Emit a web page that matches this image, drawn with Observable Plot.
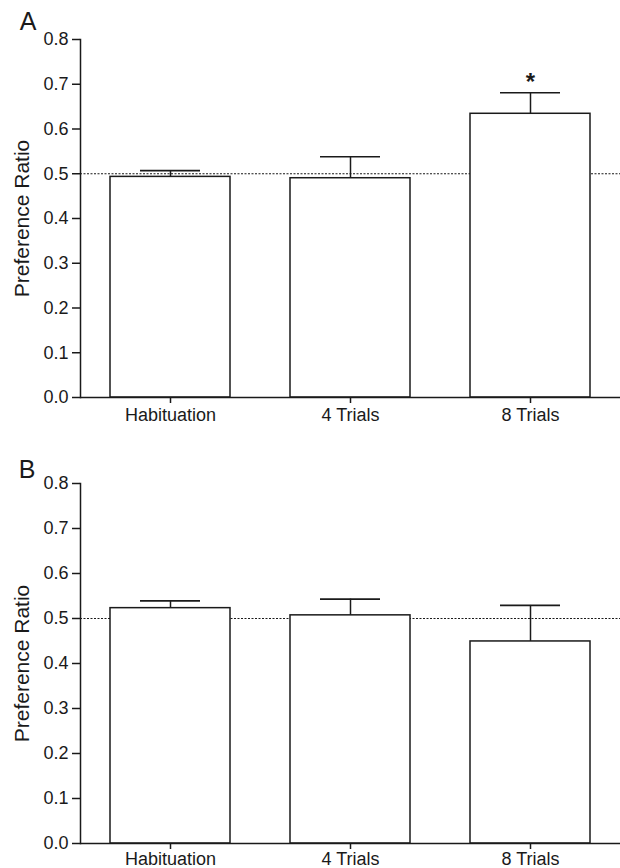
<!DOCTYPE html>
<html>
<head>
<meta charset="utf-8">
<script src="https://cdn.jsdelivr.net/npm/d3@7"></script>
<script src="https://cdn.jsdelivr.net/npm/@observablehq/plot@0.6"></script>
<style>
  html, body { margin: 0; padding: 0; background: #fff; }
  #chart { width: 620px; }
  #chart svg { display: block; }
</style>
</head>
<body>
<div id="chart"></div>
<script>
const categories = ["Habituation", "4 Trials", "8 Trials"];
const meanA = [0.493, 0.490, 0.634];
const upperA = [0.507, 0.538, 0.681];
const sigA = ["", "", "*"];
const meanB = [0.523, 0.507, 0.449];
const upperB = [0.539, 0.543, 0.529];
const sigB = ["", "", ""];
const yTicks = [0, 0.1, 0.2, 0.3, 0.4, 0.5, 0.6, 0.7, 0.8];
const chanceLevel = [0.5];
const panelLabels = ["A", "B"];

const FONT = "'Liberation Sans', Arial, Helvetica, sans-serif";
const INK = "#1a1a1a";

function panel(letter, means, uppers, sig, opts) {
  const data = categories.map((c, i) => ({cat: c, mean: means[i], upper: uppers[i], sig: sig[i]}));
  return Plot.plot({
    width: 620,
    height: opts.height,
    marginLeft: 80,
    marginRight: 0,
    marginTop: opts.marginTop,
    marginBottom: opts.marginBottom,
    style: {fontFamily: FONT, fontSize: "18px", color: INK, background: "#fff"},
    x: {domain: categories, paddingInner: 1/3, paddingOuter: 1/6, label: null},
    y: {domain: [0, 0.8], label: null},
    marks: [
      Plot.ruleY(chanceLevel, {stroke: INK, strokeWidth: 1.2, strokeDasharray: "2,1.5"}),
      Plot.ruleX(data, {x: "cat", y1: "mean", y2: "upper", stroke: INK, strokeWidth: 1.5}),
      Plot.tickY(data, {x: "cat", y: "upper", stroke: INK, strokeWidth: 1.7, insetLeft: 30, insetRight: 30}),
      Plot.barY(data, {x: "cat", y: "mean", fill: "#fff", stroke: INK, strokeWidth: 1.5}),
      Plot.text(data, {x: "cat", y: "upper", text: "sig", dy: -10, fontSize: 24, fontWeight: "bold", fill: INK}),
      Plot.ruleY([0], {stroke: INK, strokeWidth: 1.5}),
      Plot.frame({anchor: "left", stroke: INK, strokeWidth: 1.5}),
      Plot.axisY({ticks: yTicks, tickFormat: d3.format(".1f"), tickSize: 8, tickPadding: 4, label: null, fontSize: 18, stroke: INK, strokeWidth: 1.5}),
      Plot.axisX({tickSize: 6, tickPadding: opts.xPad, label: null, fontSize: 18, stroke: INK, strokeWidth: 1.5}),
      Plot.text(["Preference Ratio"], {frameAnchor: "left", textAnchor: "middle", lineAnchor: "middle", rotate: -90, dx: -58, fontSize: 21, fill: INK}),
      Plot.text([letter], {frameAnchor: "top-left", textAnchor: "middle", lineAnchor: "middle", dx: opts.letterDx, dy: opts.letterDy, fontSize: 25, fill: INK})
    ]
  });
}

const chart = document.getElementById("chart");
chart.appendChild(panel(panelLabels[0], meanA, upperA, sigA, {height: 434, marginTop: 39, marginBottom: 37, xPad: 5, letterDx: -52.5, letterDy: -17.5}));
chart.appendChild(panel(panelLabels[1], meanB, upperB, sigB, {height: 434, marginTop: 49, marginBottom: 25, xPad: 3, letterDx: -53.5, letterDy: -13.5}));
</script>
</body>
</html>
